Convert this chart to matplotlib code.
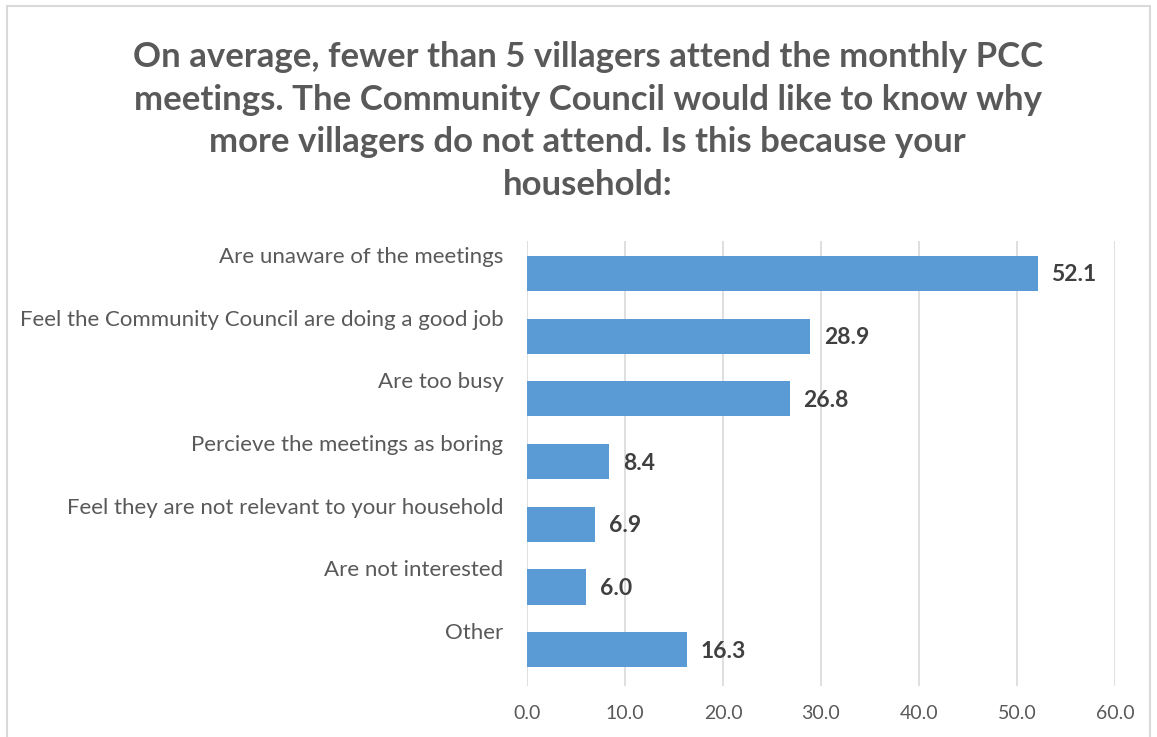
import matplotlib.pyplot as plt
from matplotlib.patches import Rectangle

plt.rcParams['font.family'] = ['Lato', 'DejaVu Sans']

categories = [
    "Are unaware of the meetings",
    "Feel the Community Council are doing a good job",
    "Are too busy",
    "Percieve the meetings as boring",
    "Feel they are not relevant to your household",
    "Are not interested",
    "Other",
]
values = [52.1, 28.9, 26.8, 8.4, 6.9, 6.0, 16.3]
xticks = [0, 10, 20, 30, 40, 50, 60]

title = ("On average, fewer than 5 villagers attend the monthly PCC\n"
         "meetings. The Community Council would like to know why\n"
         "more villagers do not attend. Is this because your\n"
         "household:")

bar_color = "#5B9BD5"
text_color = "#595959"
label_color = "#404040"

fig = plt.figure(figsize=(11.57, 7.37), dpi=100)
fig.patches.append(Rectangle((7 / 1157, -0.01), 1143 / 1157, 1 - 6 / 737 + 0.01,
                             transform=fig.transFigure, fill=False,
                             edgecolor="#D9D9D9", linewidth=1.5))

ax = fig.add_axes([527 / 1157, 1 - 686 / 737, 588 / 1157, 445 / 737])
y = list(range(len(categories)))
ax.barh(y, values, height=0.56, color=bar_color, zorder=3)
ax.set_ylim(len(categories) - 0.5 + 0.08, -0.52)
ax.set_xlim(0, 60)

ax.set_xticks(xticks)
ax.set_xticklabels([f"{t:.1f}" for t in xticks], fontsize=14, color=text_color)
ax.tick_params(axis="x", length=0, pad=14)
ax.set_yticks([])
ax.grid(axis="x", color="#D9D9D9", linewidth=1.2, zorder=0)
for s in ax.spines.values():
    s.set_visible(False)

for i, (cat, v) in enumerate(zip(categories, values)):
    ax.annotate(cat, xy=(0, i), xytext=(-17, 12), textcoords="offset points",
                ha="right", va="center", fontsize=16, color=text_color)
    ax.annotate(f"{v:.1f}", xy=(v, i), xytext=(10, -1), textcoords="offset points",
                ha="left", va="center", fontsize=16.5, fontweight="bold", color=label_color)

fig.text(0.508, 1 - 121 / 737, title, ha="center", va="center", fontsize=25,
         fontweight="bold", color=text_color, linespacing=1.4)

fig.savefig("out.png", dpi=100)
